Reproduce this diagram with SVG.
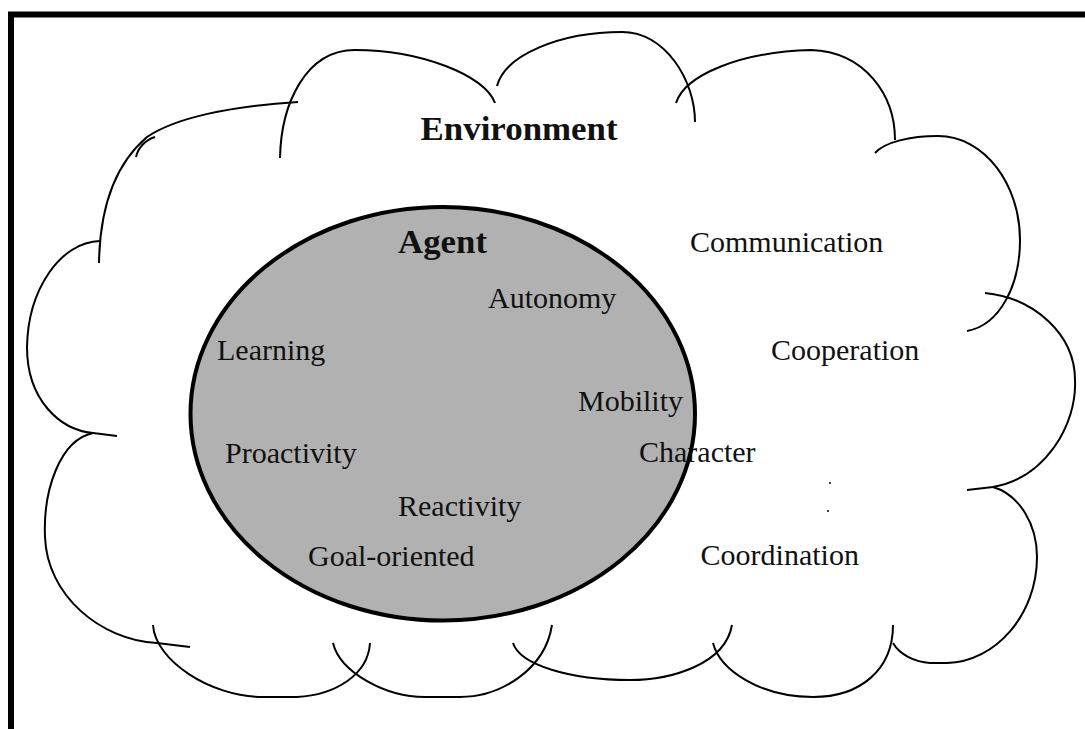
<svg xmlns="http://www.w3.org/2000/svg" width="1085" height="729" viewBox="0 0 1085 729">
  <style>
    .cloud { fill: none; stroke: #000; stroke-width: 2; stroke-linecap: butt; stroke-linejoin: round; }
    .lbl { font-family: "Liberation Serif", "Times New Roman", serif; font-size: 30px; fill: #111; }
    .bold { font-family: "Liberation Serif", "Times New Roman", serif; font-size: 34px; font-weight: bold; fill: #111; }
  </style>
  <rect x="0" y="0" width="1085" height="729" fill="#ffffff"/>
  <g id="frame">
    <rect x="11" y="14.5" width="1110" height="800" fill="none" stroke="#000" stroke-width="6"/>
  </g>
  <g id="environment">
    <g class="cloud">
      <path d="M280,158 C281,105 305,50 355,50 C420,50 485,75 495,103"/>
      <path d="M497,86 C505,55 560,32 622,32 C665,32 695,80 695,122"/>
      <path d="M676,103 C685,75 740,52 811,50 C865,52 895,95 895,140"/>
      <path d="M875,153 C885,142 910,136 938,136 C985,136 1020,185 1020,240 C1020,285 1000,325 967,331"/>
      <path d="M985,293 C1035,298 1075,335 1075,380 C1077,425 1045,478 993,487 L967,490"/>
      <path d="M893,643 C900,655 915,662 930,663 L947,663 C995,662 1037,615 1037,557 C1037,525 1020,495 993,487"/>
      <path d="M713,643 C720,670 760,697 813,697 C860,697 893,670 893,625"/>
      <path d="M513,643 C520,665 570,680 630,680 C670,680 725,665 732,625"/>
      <path d="M333,643 C340,672 385,697 425,697 L460,697 C500,697 545,670 552,625"/>
      <path d="M153,625 C155,660 210,697 263,697 L297,697 C335,695 368,675 370,643"/>
      <path d="M93,433 C60,440 43,490 45,537 C47,595 100,640 157,643 L190,647"/>
      <path d="M100,241 C60,242 28,290 27,347 C27,400 60,430 93,433 L117,436"/>
      <path d="M298,102 C230,106 175,118 147,137 C120,160 100,200 99,263"/>
      <path d="M155,137 C145,140 138,148 136,157"/>
    </g>
    <circle cx="830" cy="483" r="1" fill="#000"/>
    <circle cx="828" cy="511" r="1" fill="#000"/>
    <text class="bold" x="420.6" y="140" textLength="197" lengthAdjust="spacingAndGlyphs">Environment</text>
  </g>
  <g id="agent">
    <ellipse cx="442.75" cy="413.75" rx="252.25" ry="206.75" fill="#b1b1b1"/>
    <text class="bold" x="398" y="253" textLength="89" lengthAdjust="spacingAndGlyphs">Agent</text>
  </g>
  <g id="agent-properties">
    <text class="lbl" x="488" y="308">Autonomy</text>
    <text class="lbl" x="217" y="360">Learning</text>
    <text class="lbl" x="578" y="411">Mobility</text>
    <text class="lbl" x="225" y="463">Proactivity</text>
    <text class="lbl" x="639" y="462">Character</text>
    <text class="lbl" x="398" y="516">Reactivity</text>
    <text class="lbl" x="308" y="566">Goal-oriented</text>
  </g>
  <g id="environment-properties">
    <text class="lbl" x="690" y="252">Communication</text>
    <text class="lbl" x="771" y="360">Cooperation</text>
    <text class="lbl" x="700.6" y="565">Coordination</text>
  </g>
  <g id="agent-outline">
    <ellipse cx="442.75" cy="413.75" rx="252.25" ry="206.75" fill="none" stroke="#000" stroke-width="4"/>
  </g>
</svg>
